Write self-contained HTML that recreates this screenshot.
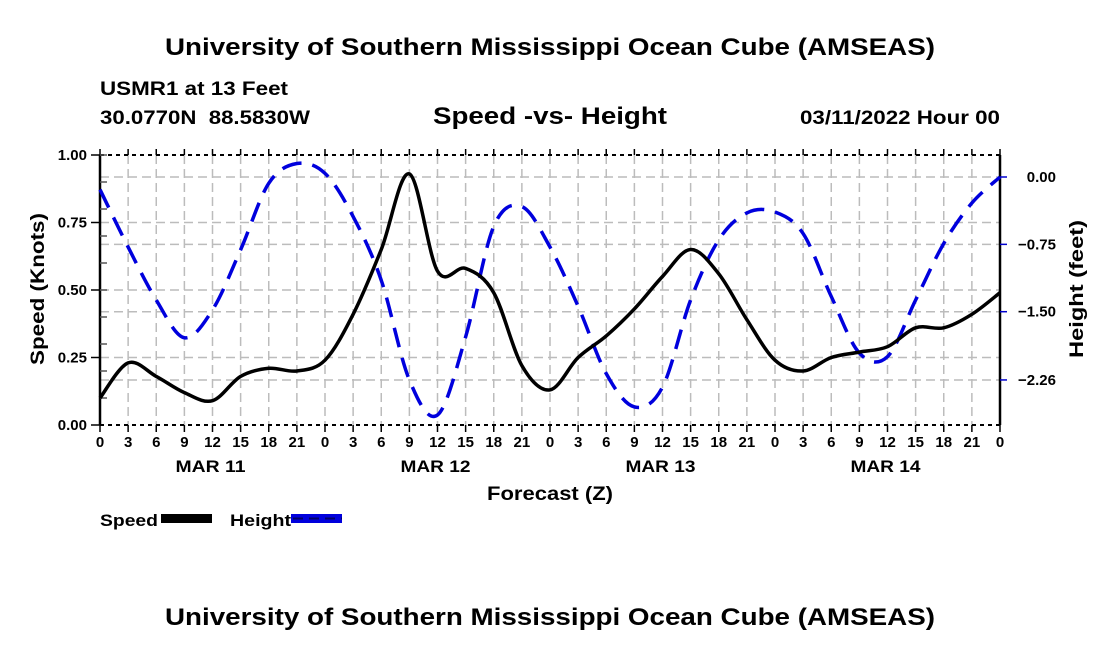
<!DOCTYPE html>
<html><head><meta charset="utf-8">
<style>
body{margin:0;background:#fff;}
svg text{font-family:"Liberation Sans",Arial,sans-serif;font-weight:bold;fill:#000;white-space:pre;}
</style></head>
<body>
<svg id="chart" width="1100" height="650" viewBox="0 0 1100 650" xmlns="http://www.w3.org/2000/svg">
<rect width="1100" height="650" fill="#fff"/>
<text x="550" y="55" font-size="24" textLength="770" lengthAdjust="spacingAndGlyphs" text-anchor="middle">University of Southern Mississippi Ocean Cube (AMSEAS)</text>
<text x="100" y="95" font-size="19" textLength="188" lengthAdjust="spacingAndGlyphs">USMR1 at 13 Feet</text>
<text x="100" y="124" font-size="19" textLength="210" lengthAdjust="spacingAndGlyphs">30.0770N  88.5830W</text>
<text x="550" y="124" font-size="24" textLength="234" lengthAdjust="spacingAndGlyphs" text-anchor="middle">Speed -vs- Height</text>
<text x="1000" y="124" font-size="19" textLength="200" lengthAdjust="spacingAndGlyphs" text-anchor="end">03/11/2022 Hour 00</text>
<g id="grid"></g>
<g id="axes"></g>
<g id="series"></g>
<text transform="translate(44,289) rotate(-90)" font-size="19" textLength="152" lengthAdjust="spacingAndGlyphs" text-anchor="middle">Speed (Knots)</text>
<text transform="translate(1083,289) rotate(-90)" font-size="19" textLength="138" lengthAdjust="spacingAndGlyphs" text-anchor="middle">Height (feet)</text>
<text x="550" y="500" font-size="19" textLength="126" lengthAdjust="spacingAndGlyphs" text-anchor="middle">Forecast (Z)</text>
<g>
<text x="100" y="526" font-size="17" textLength="58" lengthAdjust="spacingAndGlyphs">Speed</text>
<rect x="161" y="514" width="51" height="9" fill="#000"/>
<text x="230" y="526" font-size="17" textLength="61" lengthAdjust="spacingAndGlyphs">Height</text>
<rect x="291" y="514" width="51" height="9" fill="#0000dd"/>
<line x1="293" y1="518.5" x2="342" y2="518.5" stroke="#000066" stroke-width="2" stroke-dasharray="10,6"/>
</g>
<text x="550" y="625" font-size="24" textLength="770" lengthAdjust="spacingAndGlyphs" text-anchor="middle">University of Southern Mississippi Ocean Cube (AMSEAS)</text>
</svg>
<script>
const hours = [0,3,6,9,12,15,18,21,24,27,30,33,36,39,42,45,48,51,54,57,60,63,66,69,72,75,78,81,84,87,90,93,96];
const speedValues = [0.10,0.23,0.18,0.12,0.09,0.18,0.21,0.20,0.24,0.41,0.65,0.93,0.57,0.58,0.49,0.22,0.13,0.25,0.33,0.43,0.55,0.65,0.56,0.39,0.24,0.20,0.25,0.27,0.29,0.36,0.36,0.41,0.49];
const heightValues = [-0.14,-0.78,-1.37,-1.79,-1.48,-0.81,-0.07,0.15,0.04,-0.44,-1.15,-2.26,-2.65,-1.78,-0.55,-0.33,-0.78,-1.44,-2.19,-2.56,-2.34,-1.37,-0.70,-0.40,-0.39,-0.63,-1.33,-1.96,-2.00,-1.37,-0.74,-0.29,0.00];
const xTickLabels = ["0","3","6","9","12","15","18","21"];
const dayLabels = ["MAR 11","MAR 12","MAR 13","MAR 14"];
const speedTicks = [0,0.25,0.5,0.75,1.0];
const heightTicks = [0,-0.75,-1.5,-2.26];

const L=100,R=1000,T=155,B=425;
const xs=h=>L+(R-L)*h/96;
const ys=v=>B-(B-T)*v;
const yh=v=>177-89.8*v;
const NS="http://www.w3.org/2000/svg";
function mk(tag,attrs,parent){const e=document.createElementNS(NS,tag);for(const k in attrs)e.setAttribute(k,attrs[k]);parent.appendChild(e);return e;}
const grid=document.getElementById('grid'),axes=document.getElementById('axes'),series=document.getElementById('series');
const gs={stroke:"#bcbcbc","stroke-width":1.5,"stroke-dasharray":"9,5"};
for(let h=3;h<96;h+=3){const l=mk('line',Object.assign({x1:xs(h),x2:xs(h),y1:T,y2:B},gs),grid);

}
speedTicks.slice(1,4).forEach(v=>{const l=mk('line',Object.assign({x1:L,x2:R,y1:ys(v),y2:ys(v)},gs),grid);

});
heightTicks.forEach(v=>{const l=mk('line',Object.assign({x1:L,x2:R,y1:yh(v),y2:yh(v)},gs),grid);

});
mk('line',{x1:L,x2:R,y1:T,y2:T,stroke:"#000","stroke-width":2,"stroke-dasharray":"4,4"},axes);
mk('line',{x1:L,x2:R,y1:B,y2:B,stroke:"#000","stroke-width":2,"stroke-dasharray":"4,4"},axes);
mk('line',{x1:L,x2:L,y1:T,y2:B,stroke:"#000","stroke-width":2.5},axes);
mk('line',{x1:R,x2:R,y1:T,y2:B,stroke:"#000","stroke-width":2.5},axes);
for(let h=0;h<=96;h+=3){
 mk('line',{x1:xs(h),x2:xs(h),y1:B,y2:B+7,stroke:"#000","stroke-width":1.5},axes);
 mk('line',{x1:xs(h),x2:xs(h),y1:T-6,y2:T,stroke:"#000","stroke-width":1.5},axes);
 const t=mk('text',{x:xs(h),y:B+22,"font-size":15,"text-anchor":"middle"},axes);
 t.textContent=xTickLabels[(h/3)%8];
 
 
}
dayLabels.forEach((d,i)=>{const t=mk('text',{x:xs(i*24+12)-2,y:B+47,"font-size":17,"text-anchor":"middle",textLength:70,lengthAdjust:"spacingAndGlyphs"},axes);t.textContent=d;

});
for(let v=0.1;v<1;v+=0.1){mk('line',{x1:L,x2:L+7,y1:ys(v),y2:ys(v),stroke:"#555","stroke-width":1.5},axes);}
speedTicks.forEach(v=>{mk('line',{x1:L-9,x2:L,y1:ys(v),y2:ys(v),stroke:"#000","stroke-width":1.5},axes);
 const t=mk('text',{x:L-13,y:ys(v)+5,"font-size":15,"text-anchor":"end"},axes);t.textContent=v.toFixed(2);
 
 });
heightTicks.forEach(v=>{mk('line',{x1:R,x2:R+7,y1:yh(v),y2:yh(v),stroke:"#0000cc","stroke-width":1.5},axes);
 const t=mk('text',{x:R+56,y:yh(v)+5,"font-size":15,"text-anchor":"end"},axes);t.textContent=v===0?"0.00":"\u2212"+Math.abs(v).toFixed(2);
 
 });
function smooth(pts){let d="M"+pts[0][0]+","+pts[0][1];
 for(let i=0;i<pts.length-1;i++){const p0=pts[i-1]||pts[i],p1=pts[i],p2=pts[i+1],p3=pts[i+2]||p2;
  d+=" C"+(p1[0]+(p2[0]-p0[0])/6)+","+(p1[1]+(p2[1]-p0[1])/6)+" "+(p2[0]-(p3[0]-p1[0])/6)+","+(p2[1]-(p3[1]-p1[1])/6)+" "+p2[0]+","+p2[1];}
 return d;}
const hp=mk('path',{d:smooth(hours.map((h,i)=>[xs(h),yh(heightValues[i])])),fill:"none",stroke:"#0000dd","stroke-width":3.5,"stroke-dasharray":"20,11"},series);


const sp=mk('path',{d:smooth(hours.map((h,i)=>[xs(h),ys(speedValues[i])])),fill:"none",stroke:"#000","stroke-width":3.5},series);


</script>
</body></html>
